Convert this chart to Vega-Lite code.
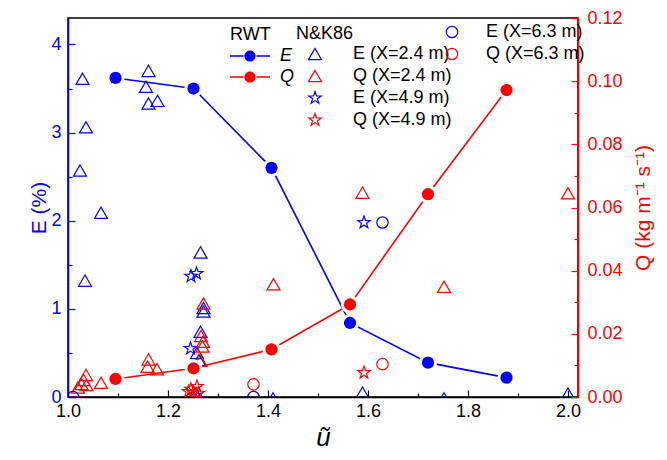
{
  "$schema": "https://vega.github.io/schema/vega-lite/v6.json",
  "width": 510,
  "height": 379,
  "autosize": {"type": "none"},
  "padding": {"left": 68, "top": 18, "right": 89, "bottom": 63},
  "background": "white",
  "config": {
    "font": "Liberation Sans",
    "view": {"stroke": "black", "strokeWidth": 1.5},
    "axis": {"grid": false, "labelFont": "Liberation Sans", "titleFont": "Liberation Sans", "labelFontSize": 18, "titleFontSize": 21, "titleFontWeight": "normal", "domainWidth": 1.5, "tickWidth": 1.2, "labelOverlap": false, "labelFlush": false},
    "legend": {"labelFont": "Liberation Sans", "labelFontSize": 18, "titleFont": "Liberation Sans", "titleFontSize": 18, "titleFontWeight": "normal", "labelColor": "black", "titleColor": "black", "padding": 0, "rowPadding": 4, "titlePadding": 2, "labelLimit": 300}
  },
  "data": {"values": [
    {"u": 1.095, "v": 3.62, "var": "E", "src": "RWT", "lab": "E"},
    {"u": 1.251, "v": 3.50, "var": "E", "src": "RWT", "lab": "E"},
    {"u": 1.407, "v": 2.60, "var": "E", "src": "RWT", "lab": "E"},
    {"u": 1.564, "v": 0.84, "var": "E", "src": "RWT", "lab": "E"},
    {"u": 1.720, "v": 0.39, "var": "E", "src": "RWT", "lab": "E"},
    {"u": 1.877, "v": 0.22, "var": "E", "src": "RWT", "lab": "E"},
    {"u": 1.095, "v": 0.0057, "var": "Q", "src": "RWT", "lab": "Q"},
    {"u": 1.251, "v": 0.0091, "var": "Q", "src": "RWT", "lab": "Q"},
    {"u": 1.407, "v": 0.0151, "var": "Q", "src": "RWT", "lab": "Q"},
    {"u": 1.564, "v": 0.0293, "var": "Q", "src": "RWT", "lab": "Q"},
    {"u": 1.720, "v": 0.0642, "var": "Q", "src": "RWT", "lab": "Q"},
    {"u": 1.877, "v": 0.0972, "var": "Q", "src": "RWT", "lab": "Q"},
    {"u": 1.029, "v": 3.61, "var": "E", "src": "NK", "lab": "E (X=2.4 m)"},
    {"u": 1.161, "v": 3.70, "var": "E", "src": "NK", "lab": "E (X=2.4 m)"},
    {"u": 1.156, "v": 3.52, "var": "E", "src": "NK", "lab": "E (X=2.4 m)"},
    {"u": 1.161, "v": 3.33, "var": "E", "src": "NK", "lab": "E (X=2.4 m)"},
    {"u": 1.179, "v": 3.36, "var": "E", "src": "NK", "lab": "E (X=2.4 m)"},
    {"u": 1.036, "v": 3.06, "var": "E", "src": "NK", "lab": "E (X=2.4 m)"},
    {"u": 1.024, "v": 2.57, "var": "E", "src": "NK", "lab": "E (X=2.4 m)"},
    {"u": 1.066, "v": 2.09, "var": "E", "src": "NK", "lab": "E (X=2.4 m)"},
    {"u": 1.265, "v": 1.64, "var": "E", "src": "NK", "lab": "E (X=2.4 m)"},
    {"u": 1.034, "v": 1.32, "var": "E", "src": "NK", "lab": "E (X=2.4 m)"},
    {"u": 1.271, "v": 1.01, "var": "E", "src": "NK", "lab": "E (X=2.4 m)"},
    {"u": 1.271, "v": 0.97, "var": "E", "src": "NK", "lab": "E (X=2.4 m)"},
    {"u": 1.265, "v": 0.74, "var": "E", "src": "NK", "lab": "E (X=2.4 m)"},
    {"u": 1.258, "v": 0.50, "var": "E", "src": "NK", "lab": "E (X=2.4 m)"},
    {"u": 1.262, "v": 0.42, "var": "E", "src": "NK", "lab": "E (X=2.4 m)"},
    {"u": 1.256, "v": 0.03, "var": "E", "src": "NK", "lab": "E (X=2.4 m)"},
    {"u": 1.410, "v": -0.015, "var": "E", "src": "NK", "lab": "E (X=2.4 m)"},
    {"u": 1.589, "v": 0.05, "var": "E", "src": "NK", "lab": "E (X=2.4 m)"},
    {"u": 1.752, "v": -0.015, "var": "E", "src": "NK", "lab": "E (X=2.4 m)"},
    {"u": 2.000, "v": 0.04, "var": "E", "src": "NK", "lab": "E (X=2.4 m)"},
    {"u": 1.036, "v": 0.0070, "var": "Q", "src": "NK", "lab": "Q (X=2.4 m)"},
    {"u": 1.031, "v": 0.0054, "var": "Q", "src": "NK", "lab": "Q (X=2.4 m)"},
    {"u": 1.027, "v": 0.0041, "var": "Q", "src": "NK", "lab": "Q (X=2.4 m)"},
    {"u": 1.037, "v": 0.0038, "var": "Q", "src": "NK", "lab": "Q (X=2.4 m)"},
    {"u": 1.020, "v": 0.0030, "var": "Q", "src": "NK", "lab": "Q (X=2.4 m)"},
    {"u": 1.066, "v": 0.0045, "var": "Q", "src": "NK", "lab": "Q (X=2.4 m)"},
    {"u": 1.161, "v": 0.0119, "var": "Q", "src": "NK", "lab": "Q (X=2.4 m)"},
    {"u": 1.159, "v": 0.0096, "var": "Q", "src": "NK", "lab": "Q (X=2.4 m)"},
    {"u": 1.178, "v": 0.0088, "var": "Q", "src": "NK", "lab": "Q (X=2.4 m)"},
    {"u": 1.271, "v": 0.0296, "var": "Q", "src": "NK", "lab": "Q (X=2.4 m)"},
    {"u": 1.266, "v": 0.0193, "var": "Q", "src": "NK", "lab": "Q (X=2.4 m)"},
    {"u": 1.270, "v": 0.0175, "var": "Q", "src": "NK", "lab": "Q (X=2.4 m)"},
    {"u": 1.269, "v": 0.0160, "var": "Q", "src": "NK", "lab": "Q (X=2.4 m)"},
    {"u": 1.265, "v": 0.0115, "var": "Q", "src": "NK", "lab": "Q (X=2.4 m)"},
    {"u": 1.411, "v": 0.0357, "var": "Q", "src": "NK", "lab": "Q (X=2.4 m)"},
    {"u": 1.589, "v": 0.0647, "var": "Q", "src": "NK", "lab": "Q (X=2.4 m)"},
    {"u": 1.752, "v": 0.0349, "var": "Q", "src": "NK", "lab": "Q (X=2.4 m)"},
    {"u": 2.000, "v": 0.0645, "var": "Q", "src": "NK", "lab": "Q (X=2.4 m)"},
    {"u": 1.246, "v": 1.37, "var": "E", "src": "NK", "lab": "E (X=4.9 m)"},
    {"u": 1.257, "v": 1.40, "var": "E", "src": "NK", "lab": "E (X=4.9 m)"},
    {"u": 1.245, "v": 0.55, "var": "E", "src": "NK", "lab": "E (X=4.9 m)"},
    {"u": 1.592, "v": 1.98, "var": "E", "src": "NK", "lab": "E (X=4.9 m)"},
    {"u": 1.255, "v": 0.02, "var": "E", "src": "NK", "lab": "E (X=4.9 m)"},
    {"u": 1.246, "v": 0.0024, "var": "Q", "src": "NK", "lab": "Q (X=4.9 m)"},
    {"u": 1.258, "v": 0.0033, "var": "Q", "src": "NK", "lab": "Q (X=4.9 m)"},
    {"u": 1.251, "v": 0.0014, "var": "Q", "src": "NK", "lab": "Q (X=4.9 m)"},
    {"u": 1.261, "v": 0.0012, "var": "Q", "src": "NK", "lab": "Q (X=4.9 m)"},
    {"u": 1.241, "v": 0.0017, "var": "Q", "src": "NK", "lab": "Q (X=4.9 m)"},
    {"u": 1.592, "v": 0.0077, "var": "Q", "src": "NK", "lab": "Q (X=4.9 m)"},
    {"u": 1.010, "v": 0.0, "var": "E", "src": "NK63", "lab": "E (X=6.3 m)"},
    {"u": 1.371, "v": 0.0, "var": "E", "src": "NK63", "lab": "E (X=6.3 m)"},
    {"u": 1.629, "v": 1.98, "var": "E", "src": "NK63", "lab": "E (X=6.3 m)"},
    {"u": 1.371, "v": 0.0040, "var": "Q", "src": "NK63", "lab": "Q (X=6.3 m)"},
    {"u": 1.629, "v": 0.0104, "var": "Q", "src": "NK63", "lab": "Q (X=6.3 m)"}
  ]},
  "encoding": {
    "x": {"field": "u", "type": "quantitative",
      "scale": {"domain": [1, 2.02], "nice": false, "zero": false},
      "axis": {"values": [1, 1.1, 1.2, 1.3, 1.4, 1.5, 1.6, 1.7, 1.8, 1.9, 2],
        "labelExpr": "round(datum.value*10)%2===0 ? format(datum.value,'.1f') : ''",
        "tickSize": {"condition": {"test": "round(datum.value*10)%2===0", "value": -7}, "value": -4},
        "tickColor": "black", "domainColor": "black", "labelColor": "black",
        "labelPadding": 12, "title": "ũ", "titleFontStyle": "italic", "titleFontSize": 26, "titlePadding": 1, "titleColor": "black"}}
  },
  "layer": [
    {
      "layer": [
        {
          "transform": [{"filter": "datum.src==='RWT' && datum.var==='E'"}],
          "mark": {"type": "line", "strokeWidth": 1.6, "color": "#0000ff"},
          "encoding": {
            "y": {"field": "v", "type": "quantitative", "scale": {"domain": [0, 4.3], "nice": false, "zero": false},
              "axis": {"orient": "left", "values": [0, 0.5, 1, 1.5, 2, 2.5, 3, 3.5, 4],
                "labelExpr": "datum.value%1===0 ? format(datum.value,'d') : ''",
                "tickSize": {"condition": {"test": "datum.value%1===0", "value": -7}, "value": -4},
                "tickColor": "#0000ff", "domainColor": "#0000ff", "labelColor": "#0000ff", "titleColor": "#0000ff",
                "title": "E (%)", "labelPadding": 14, "titlePadding": 1}}
          }
        },
        {
          "transform": [{"filter": "datum.src==='RWT' && datum.var==='Q'"}],
          "mark": {"type": "line", "strokeWidth": 1.6, "color": "#ff0000"},
          "encoding": {
            "y": {"field": "v", "type": "quantitative", "scale": {"domain": [0, 0.12], "nice": false, "zero": false},
              "axis": {"orient": "right", "values": [0, 0.01, 0.02, 0.03, 0.04, 0.05, 0.06, 0.07, 0.08, 0.09, 0.1, 0.11, 0.12],
                "labelExpr": "round(datum.value*100)%2===0 ? format(datum.value,'.2f') : ''",
                "tickSize": {"condition": {"test": "round(datum.value*100)%2===0", "value": -7}, "value": -4},
                "tickColor": "#ff0000", "domainColor": "#ff0000", "labelColor": "#ff0000", "titleColor": "#ff0000",
                "title": "Q (kg m⁻¹ s⁻¹)", "titleAngle": 270, "titleBaseline": "top", "labelPadding": 16, "titlePadding": 10}}
          }
        },
        {
          "transform": [{"filter": "datum.src==='NK' && datum.var==='E'"}],
          "mark": {"type": "point", "filled": false, "size": 170, "strokeWidth": 1.2, "opacity": 1, "clip": true},
          "encoding": {
            "y": {"field": "v", "type": "quantitative", "scale": {"domain": [0, 4.3], "nice": false, "zero": false}, "axis": null},
            "shape": {"field": "lab", "type": "nominal",
              "scale": {"domain": ["E (X=2.4 m)", "Q (X=2.4 m)", "E (X=4.9 m)", "Q (X=4.9 m)"],
                "range": ["triangle-up", "triangle-up", "M0,-1L0.235,-0.324L0.951,-0.309L0.38,0.124L0.588,0.809L0,0.4L-0.588,0.809L-0.38,0.124L-0.951,-0.309L-0.235,-0.324Z", "M0,-1L0.235,-0.324L0.951,-0.309L0.38,0.124L0.588,0.809L0,0.4L-0.588,0.809L-0.38,0.124L-0.951,-0.309L-0.235,-0.324Z"]},
              "legend": {"title": "N&K86", "orient": "none", "legendX": 228, "legendY": 7, "symbolOffset": 10, "labelOffset": 29, "symbolSize": 170, "symbolStrokeWidth": 1.2}},
            "stroke": {"field": "lab", "type": "nominal",
              "scale": {"domain": ["E (X=2.4 m)", "Q (X=2.4 m)", "E (X=4.9 m)", "Q (X=4.9 m)"], "range": ["#0000ff", "#ff0000", "#0000ff", "#ff0000"]},
              "legend": {"title": "N&K86", "orient": "none", "legendX": 228, "legendY": 7, "symbolOffset": 10, "labelOffset": 29, "symbolSize": 170, "symbolStrokeWidth": 1.2}}
          }
        },
        {
          "transform": [{"filter": "datum.src==='NK' && datum.var==='Q'"}],
          "mark": {"type": "point", "filled": false, "size": 170, "strokeWidth": 1.2, "opacity": 1, "clip": true},
          "encoding": {
            "y": {"field": "v", "type": "quantitative", "scale": {"domain": [0, 0.12], "nice": false, "zero": false}, "axis": null},
            "shape": {"field": "lab", "type": "nominal"},
            "stroke": {"field": "lab", "type": "nominal"}
          }
        },
        {
          "transform": [{"filter": "datum.src==='RWT' && datum.var==='E'"}],
          "mark": {"type": "point", "filled": true, "shape": "circle", "size": 330, "color": "white", "opacity": 1},
          "encoding": {
            "y": {"field": "v", "type": "quantitative", "scale": {"domain": [0, 4.3], "nice": false, "zero": false}, "axis": null}
          }
        },
        {
          "transform": [{"filter": "datum.src==='RWT' && datum.var==='Q'"}],
          "mark": {"type": "point", "filled": true, "shape": "circle", "size": 330, "color": "white", "opacity": 1},
          "encoding": {
            "y": {"field": "v", "type": "quantitative", "scale": {"domain": [0, 0.12], "nice": false, "zero": false}, "axis": null}
          }
        },
        {
          "transform": [{"filter": "datum.src==='RWT' && datum.var==='E'"}],
          "mark": {"type": "point", "filled": true, "shape": "circle", "size": 150, "opacity": 1},
          "encoding": {
            "y": {"field": "v", "type": "quantitative", "scale": {"domain": [0, 4.3], "nice": false, "zero": false}, "axis": null},
            "color": {"field": "var", "type": "nominal", "scale": {"domain": ["E", "Q"], "range": ["#0000ff", "#ff0000"]},
              "legend": {"title": "RWT", "orient": "none", "legendX": 162, "legendY": 8, "labelFontStyle": "italic", "symbolSize": 400, "symbolOffset": 10, "labelOffset": 20, "symbolStrokeWidth": 0, "rowPadding": 2,
                "symbolType": "M-2,-0.08L-0.64,-0.08L-0.64,0.08L-2,0.08ZM0.64,-0.08L2,-0.08L2,0.08L0.64,0.08ZM-0.56,0A0.56,0.56 0 1,1 0.56,0A0.56,0.56 0 1,1 -0.56,0Z"}}
          }
        },
        {
          "transform": [{"filter": "datum.src==='RWT' && datum.var==='Q'"}],
          "mark": {"type": "point", "filled": true, "shape": "circle", "size": 150, "opacity": 1},
          "encoding": {
            "y": {"field": "v", "type": "quantitative", "scale": {"domain": [0, 0.12], "nice": false, "zero": false}, "axis": null},
            "color": {"field": "var", "type": "nominal"}
          }
        }
      ],
      "resolve": {"scale": {"y": "independent"}}
    },
    {
      "layer": [
        {
          "transform": [{"filter": "datum.src==='NK63' && datum.var==='E'"}],
          "mark": {"type": "point", "filled": false, "size": 130, "strokeWidth": 1.2, "opacity": 1, "clip": true},
          "encoding": {
            "y": {"field": "v", "type": "quantitative", "scale": {"domain": [0, 4.3], "nice": false, "zero": false}, "axis": null},
            "shape": {"field": "lab", "type": "nominal", "scale": {"domain": ["E (X=6.3 m)", "Q (X=6.3 m)"], "range": ["circle", "circle"]},
              "legend": {"title": null, "orient": "none", "legendX": 375, "legendY": 5, "labelOffset": 25, "symbolSize": 130, "symbolStrokeWidth": 1.2}},
            "stroke": {"field": "lab", "type": "nominal", "scale": {"domain": ["E (X=6.3 m)", "Q (X=6.3 m)"], "range": ["#0000ff", "#ff0000"]},
              "legend": {"title": null, "orient": "none", "legendX": 375, "legendY": 5, "labelOffset": 25, "symbolSize": 130, "symbolStrokeWidth": 1.2}}
          }
        },
        {
          "transform": [{"filter": "datum.src==='NK63' && datum.var==='Q'"}],
          "mark": {"type": "point", "filled": false, "size": 130, "strokeWidth": 1.2, "opacity": 1, "clip": true},
          "encoding": {
            "y": {"field": "v", "type": "quantitative", "scale": {"domain": [0, 0.12], "nice": false, "zero": false}, "axis": null},
            "shape": {"field": "lab", "type": "nominal"},
            "stroke": {"field": "lab", "type": "nominal"}
          }
        }
      ],
      "resolve": {"scale": {"y": "independent"}}
    }
  ],
  "resolve": {"scale": {"y": "independent", "shape": "independent", "stroke": "independent"}}
}
